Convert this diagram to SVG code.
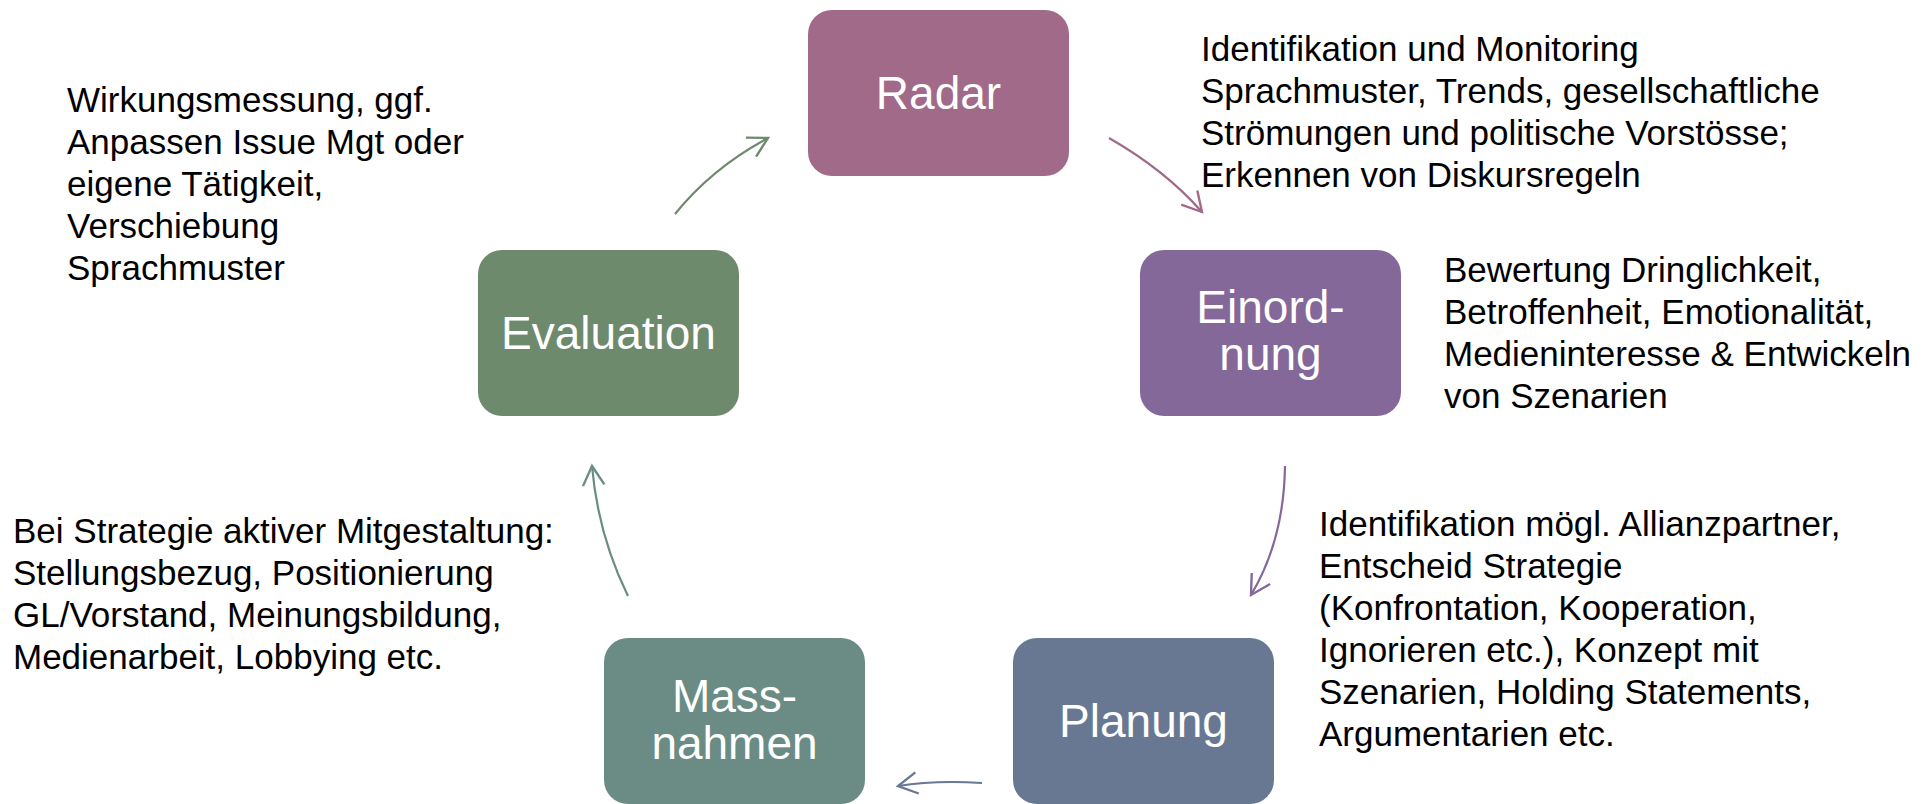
<svg xmlns="http://www.w3.org/2000/svg" width="1932" height="804" viewBox="0 0 1932 804">
<style>
.box{stroke:none}
.bt{font-family:"Liberation Sans",Arial,sans-serif;font-size:46px;fill:#ffffff;text-anchor:middle}
.dt{font-family:"Liberation Sans",Arial,sans-serif;font-size:35px;fill:#000000}
.con{fill:none;stroke-width:2.2}
</style>
<defs>
<marker id="a1" markerUnits="userSpaceOnUse" markerWidth="30" markerHeight="30" refX="0" refY="0" viewBox="-22 -14 26 28" orient="auto"><path d="M-18,-10 L0,0 L-18,10" fill="none" stroke="#A06A88" stroke-width="2.2"/></marker>
<marker id="a2" markerUnits="userSpaceOnUse" markerWidth="30" markerHeight="30" refX="0" refY="0" viewBox="-22 -14 26 28" orient="auto"><path d="M-18,-10 L0,0 L-18,10" fill="none" stroke="#84689A" stroke-width="2.2"/></marker>
<marker id="a3" markerUnits="userSpaceOnUse" markerWidth="30" markerHeight="30" refX="0" refY="0" viewBox="-22 -14 26 28" orient="auto"><path d="M-18,-10 L0,0 L-18,10" fill="none" stroke="#687792" stroke-width="2.2"/></marker>
<marker id="a4" markerUnits="userSpaceOnUse" markerWidth="30" markerHeight="30" refX="0" refY="0" viewBox="-22 -14 26 28" orient="auto"><path d="M-18,-10 L0,0 L-18,10" fill="none" stroke="#6A8C85" stroke-width="2.2"/></marker>
<marker id="a5" markerUnits="userSpaceOnUse" markerWidth="30" markerHeight="30" refX="0" refY="0" viewBox="-22 -14 26 28" orient="auto"><path d="M-18,-10 L0,0 L-18,10" fill="none" stroke="#6D8A6C" stroke-width="2.2"/></marker>
</defs>
<rect width="1932" height="804" fill="#ffffff"/>

<g id="connectors">
<path class="con" stroke="#A06A88" d="M1109,138 Q1165,170 1202,212" marker-end="url(#a1)"/>
<path class="con" stroke="#84689A" d="M1285,466 Q1284,540 1251,595" marker-end="url(#a2)"/>
<path class="con" stroke="#687792" d="M982,783 Q935,780 898,786" marker-end="url(#a3)"/>
<path class="con" stroke="#6A8C85" d="M628,596 Q598,535 592,466" marker-end="url(#a4)"/>
<path class="con" stroke="#6D8A6C" d="M675,214 Q712,168 768,138" marker-end="url(#a5)"/>
</g>

<g id="radar">
<rect class="box" x="808" y="10" width="261" height="166" rx="24" fill="#A06A88"/>
<text class="bt" x="938.5" y="109">Radar</text>
</g>
<g id="einordnung">
<rect class="box" x="1140" y="250" width="261" height="166" rx="24" fill="#84689A"/>
<text class="bt" x="1270.5" y="323">Einord-</text>
<text class="bt" x="1270.5" y="370">nung</text>
</g>
<g id="planung">
<rect class="box" x="1013" y="638" width="261" height="166" rx="24" fill="#687792"/>
<text class="bt" x="1143.5" y="737">Planung</text>
</g>
<g id="massnahmen">
<rect class="box" x="604" y="638" width="261" height="166" rx="24" fill="#6A8C85"/>
<text class="bt" x="734.5" y="712">Mass-</text>
<text class="bt" x="734.5" y="759">nahmen</text>
</g>
<g id="evaluation">
<rect class="box" x="478" y="250" width="261" height="166" rx="24" fill="#6D8A6C"/>
<text class="bt" x="608.5" y="349">Evaluation</text>
</g>

<g id="text-radar">
<text class="dt" x="1201" y="61">Identifikation und Monitoring</text>
<text class="dt" x="1201" y="103">Sprachmuster, Trends, gesellschaftliche</text>
<text class="dt" x="1201" y="145">Strömungen und politische Vorstösse;</text>
<text class="dt" x="1201" y="187">Erkennen von Diskursregeln</text>
</g>
<g id="text-einordnung">
<text class="dt" x="1444" y="282">Bewertung Dringlichkeit,</text>
<text class="dt" x="1444" y="324">Betroffenheit, Emotionalität,</text>
<text class="dt" x="1444" y="366">Medieninteresse &amp; Entwickeln</text>
<text class="dt" x="1444" y="408">von Szenarien</text>
</g>
<g id="text-planung">
<text class="dt" x="1319" y="536">Identifikation mögl. Allianzpartner,</text>
<text class="dt" x="1319" y="578">Entscheid Strategie</text>
<text class="dt" x="1319" y="620">(Konfrontation, Kooperation,</text>
<text class="dt" x="1319" y="662">Ignorieren etc.), Konzept mit</text>
<text class="dt" x="1319" y="704">Szenarien, Holding Statements,</text>
<text class="dt" x="1319" y="746">Argumentarien etc.</text>
</g>
<g id="text-massnahmen">
<text class="dt" x="13" y="543">Bei Strategie aktiver Mitgestaltung:</text>
<text class="dt" x="13" y="585">Stellungsbezug, Positionierung</text>
<text class="dt" x="13" y="627">GL/Vorstand, Meinungsbildung,</text>
<text class="dt" x="13" y="669">Medienarbeit, Lobbying etc.</text>
</g>
<g id="text-evaluation">
<text class="dt" x="67" y="112">Wirkungsmessung, ggf.</text>
<text class="dt" x="67" y="154">Anpassen Issue Mgt oder</text>
<text class="dt" x="67" y="196">eigene Tätigkeit,</text>
<text class="dt" x="67" y="238">Verschiebung</text>
<text class="dt" x="67" y="280">Sprachmuster</text>
</g>
</svg>
